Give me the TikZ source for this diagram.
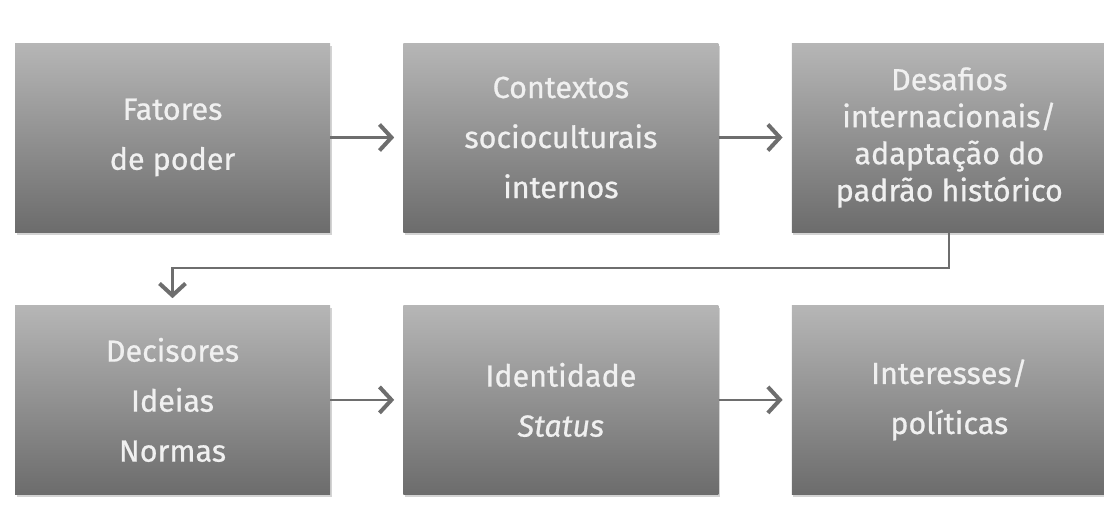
\documentclass[tikz,border=0pt]{standalone}
\usepackage{fontspec}
\setmainfont{Fira Sans}[FakeBold=0.7]
\usetikzlibrary{positioning}
\usetikzlibrary{arrows.meta,shadows}
\definecolor{boxtop}{RGB}{182,182,182}
\definecolor{boxbot}{RGB}{108,108,108}
\definecolor{linegray}{RGB}{110,110,110}
\tikzstyle{block} = [rectangle, top color=boxtop, bottom color=boxbot, draw=none,
    minimum width=315pt, minimum height=189pt, inner sep=0pt, align=center,
    text=white!94!black, font=\fontsize{30.5pt}{50pt}\selectfont,
    drop shadow={shadow xshift=1.5pt, shadow yshift=-2.5pt, opacity=0.35}]
\tikzstyle{line} = [draw=linegray, line width=2.2pt,
    -{Straight Barb[length=12pt,width=26pt,line width=4pt]}, shorten >=9pt]

\begin{document}
\begin{tikzpicture}[node distance = 73pt]
    \useasboundingbox (0pt,0pt) rectangle (1104pt,-514pt);
    % Place nodes
    \node [block] (fat) at (172.5pt,-137.5pt) {Fatores\\de poder};
    \node [block, right=of fat] (ctx) {Contextos\\socioculturais\\internos};
    \node [block, right=of ctx, font=\fontsize{30.5pt}{37pt}\selectfont] (desa)
        {Desafios\\internacionais/\\adaptação do\\padrão histórico};
    \node [block, below=of fat] (deci) {Decisores\\Ideias\\Normas};
    \node [block, right=of deci] (iden) {Identidade\\\textit{Status}};
    \node [block, right=of iden] (inter) {Interesses/\\políticas};

    % Draw edges
    \path [line] (fat) -- (ctx);
    \path [line] (ctx) -- (desa);
    \path [line, shorten >=7pt] (desa.south) -- ++(0pt,-36pt) -| (deci.north);
    \path [line] (deci) -- (iden);
    \path [line] (iden) -- (inter);
\end{tikzpicture}
\end{document}
